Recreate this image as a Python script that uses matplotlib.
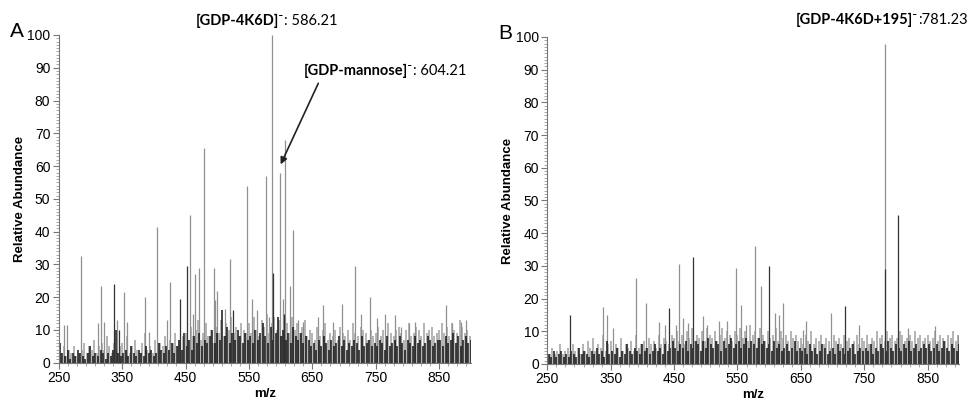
import numpy as np
import matplotlib
matplotlib.use('Agg')
import matplotlib.pyplot as plt
from matplotlib.ticker import MultipleLocator, AutoMinorLocator

plt.rcParams['font.family'] = ['Liberation Sans', 'DejaVu Sans']

# ---- panel A : tall peaks (m/z, relative abundance)
a_peak_mz = [258, 263, 285, 312, 317, 322, 342, 353.5, 358, 385.6, 393, 405, 421, 426,
             457, 462, 464.5, 471.8, 479, 494.5, 497, 500, 512, 520.7, 546.5, 555,
             563, 577, 581, 586.2, 598.5, 603, 607, 614.8, 619.5, 628, 635, 659,
             666.4, 682, 696, 717.8, 726, 740.5, 752, 765, 781, 790, 802, 812,
             860.5, 870, 884, 893]
a_peak_int = [11.5, 11.5, 32.5, 12, 23.5, 12.5, 13, 21.5, 12.5, 20, 9.5, 41.5, 13, 24.5,
              45, 15, 27, 29, 65.5, 29, 19, 22, 16.5, 31.5, 54, 19.5,
              16, 57, 14, 100, 58, 19.5, 68, 23.5, 40.5, 13, 12.5, 14,
              17.5, 12.5, 18, 29.5, 15, 20, 13.5, 15, 14.5, 11, 12, 12.5,
              17.5, 12, 12.5, 13]
a_dark_mz = [337, 345, 442, 452, 525, 588, 606]
a_dark_int = [24, 10, 19.5, 29.5, 16, 27.5, 15]

# ---- panel A : baseline noise (gray every 4 from 250, black every 4 from 252)
a_noise_gray = [4, 3, 5, 2, 4, 3, 5, 2, 3, 4, 6, 3, 5, 4, 7, 3, 5, 6, 4, 8, 5, 3, 6, 4, 5,
                6, 4, 8, 3, 5, 7, 4, 3, 6, 9, 4, 5, 3, 7, 4, 6, 5, 8, 4, 7, 6, 9, 5, 7, 8,
                9, 7, 11, 8, 10, 13, 7, 9, 12, 8, 10, 6, 11, 9, 13, 8, 12, 10, 14, 9, 11, 8, 12, 10, 9,
                12, 9, 14, 10, 8, 13, 11, 15, 9, 12, 14, 10, 13, 8, 11, 12, 9, 14, 10, 12, 9, 11, 13, 8, 10,
                9, 7, 11, 8, 10, 12, 7, 9, 8, 10, 7, 11, 9, 8, 10, 7, 12, 9, 8, 11, 10, 9, 7, 10, 8,
                9, 11, 8, 10, 7, 12, 9, 8, 10, 11, 9, 7, 10, 12, 8, 9, 11, 10, 8, 12, 9, 10, 11, 8, 9,
                10, 12, 9, 11, 8, 12, 10, 9, 13, 11, 9, 10, 8]
a_noise_black = [6, 3, 2, 4, 1, 3, 2, 4, 3, 2, 1, 3, 5, 2, 3, 2, 4, 3, 1, 3, 2, 4, 10, 3, 2,
                 3, 4, 2, 5, 3, 2, 4, 3, 2, 5, 3, 4, 2, 3, 6, 4, 3, 5, 4, 6, 3, 5, 7, 4, 9,
                 5, 7, 4, 8, 6, 9, 5, 7, 6, 8, 10, 6, 9, 7, 16, 8, 11, 6, 9, 7, 10, 8, 6, 9, 7,
                 8, 6, 10, 7, 9, 12, 8, 6, 11, 7, 9, 14, 8, 10, 7, 9, 6, 11, 8, 7, 9, 6, 8, 7, 5,
                 6, 4, 7, 5, 8, 6, 4, 7, 5, 6, 8, 5, 7, 4, 6, 5, 7, 6, 4, 8, 5, 6, 7, 5, 6,
                 5, 7, 6, 4, 8, 5, 6, 7, 5, 8, 6, 4, 7, 6, 5, 8, 6, 7, 5, 6, 8, 7, 5, 6, 7,
                 7, 5, 8, 6, 7, 9, 6, 8, 5, 7, 8, 6, 7]

# ---- panel B : tall peaks
b_peak_mz = [337.4, 343.8, 353.7, 390, 405.3, 426.4, 435.3, 453.2, 457.5, 464.8, 472.2,
             494.8, 501.7, 521, 533.3, 546.9, 554.8, 563.3, 576.9, 587, 608.5, 615.4,
             621.1, 653.3, 657.5, 696.9, 741.7, 782, 819, 861, 898]
b_peak_int = [17.3, 15, 11, 26.2, 18.7, 12.7, 12, 11.8, 30.5, 14, 12.5,
              14.7, 12, 13, 13.2, 29.5, 18, 12, 36, 24, 15.5, 15,
              18.7, 10.5, 13, 15.7, 12, 98, 11, 11.5, 9]
b_dark_mz = [285.8, 442.7, 479.6, 599, 719, 782.5, 803.8]
b_dark_int = [15, 17, 32.7, 30, 17.6, 29, 45.5]

b_noise_gray = [4, 3, 5, 3, 4, 6, 3, 4, 5, 3, 6, 4, 5, 3, 6, 4, 7, 5, 8, 4, 6, 5, 9, 4, 6,
                7, 4, 6, 5, 8, 4, 6, 5, 7, 4, 9, 5, 6, 7, 5, 8, 6, 7, 5, 9, 6, 8, 7, 6, 9,
                8, 10, 7, 9, 6, 10, 8, 11, 7, 9, 8, 10, 7, 11, 9, 8, 10, 7, 9, 11, 8, 10, 9, 7, 10,
                9, 11, 8, 10, 7, 12, 9, 10, 8, 11, 9, 7, 10, 8, 9, 11, 7, 10, 8, 9, 7, 10, 8, 9, 7,
                8, 6, 9, 7, 10, 6, 8, 7, 9, 6, 8, 7, 5, 9, 7, 8, 6, 9, 7, 8, 6, 7, 9, 6, 8,
                7, 9, 6, 8, 7, 10, 8, 9, 7, 10, 8, 9, 7, 8, 10, 9, 7, 8, 9, 7, 10, 8, 9, 7, 8,
                9, 7, 8, 10, 7, 9, 8, 7, 9, 8, 10, 7, 9]
b_noise_black = [3, 2, 4, 2, 3, 4, 2, 3, 2, 4, 3, 2, 5, 3, 4, 3, 2, 4, 3, 5, 3, 4, 2, 7, 3,
                 4, 3, 5, 2, 4, 3, 6, 4, 3, 5, 4, 3, 6, 4, 5, 3, 4, 6, 4, 5, 3, 6, 4, 5, 7,
                 5, 4, 6, 5, 7, 4, 6, 5, 7, 6, 4, 7, 5, 8, 6, 5, 7, 6, 4, 7, 5, 6, 8, 5, 6,
                 7, 5, 6, 8, 5, 7, 6, 5, 8, 6, 7, 5, 6, 4, 7, 5, 6, 4, 5, 6, 4, 5, 7, 4, 5,
                 4, 5, 3, 6, 4, 5, 3, 4, 6, 5, 3, 4, 5, 3, 6, 4, 5, 3, 4, 5, 6, 3, 4, 5, 4,
                 5, 4, 6, 3, 5, 4, 6, 5, 4, 7, 5, 4, 6, 5, 4, 6, 5, 7, 4, 5, 6, 4, 5, 6, 5,
                 6, 4, 5, 6, 4, 5, 7, 5, 4, 6, 5, 4, 6]

noise_mz_gray = np.arange(250, 900, 4)
noise_mz_black = np.arange(252, 902, 4)

fig = plt.figure(figsize=(9.73, 4.01), dpi=100)
axA = fig.add_axes([0.0603, 0.0955, 0.4237, 0.8173])
axB = fig.add_axes([0.5625, 0.0923, 0.4235, 0.8155])


def draw_spectrum(ax, ngray, nblack, pmz, pint, dmz, dint, letter):
    ax.vlines(noise_mz_gray, 0, ngray, colors='#a0a0a0', linewidth=1.1)
    ax.vlines(pmz, 0, pint, colors='#909090', linewidth=0.9)
    ax.vlines(noise_mz_black, 0, nblack, colors='#141414', linewidth=1.1)
    ax.vlines(dmz, 0, dint, colors='#333333', linewidth=0.9)
    ax.set_xlim(250, 900)
    ax.set_ylim(0, 100)
    for s in ['top', 'right']:
        ax.spines[s].set_visible(False)
    ax.spines['left'].set_color('#777777')
    ax.spines['bottom'].set_color('#777777')
    ax.set_xticks([250, 350, 450, 550, 650, 750, 850])
    ax.set_yticks(range(0, 101, 10))
    ax.yaxis.set_minor_locator(MultipleLocator(1))
    ax.xaxis.set_minor_locator(AutoMinorLocator(7))
    ax.tick_params(axis='both', which='major', labelsize=10, length=4,
                   color='#777777', pad=2)
    ax.tick_params(axis='both', which='minor', length=2, color='#999999')
    ax.set_xlabel('m/z', fontsize=9.5, fontweight='bold', labelpad=2)
    ax.set_ylabel('Relative Abundance', fontsize=9.5, fontweight='bold', labelpad=1)
    ax.text(-0.118, 1.01, letter, transform=ax.transAxes, fontsize=15,
            ha='left', va='center')


draw_spectrum(axA, a_noise_gray, a_noise_black, a_peak_mz, a_peak_int,
              a_dark_mz, a_dark_int, 'A')
draw_spectrum(axB, b_noise_gray, b_noise_black, b_peak_mz, b_peak_int,
              b_dark_mz, b_dark_int, 'B')

lab = ['Lato', 'DejaVu Sans']
# annotations panel A
fig.text(284 / 973, 1 - 21 / 401, '[GDP-4K6D]\u207b', family=lab, fontweight='bold',
         fontsize=10.5, ha='right', va='center')
fig.text(284 / 973, 1 - 21 / 401, ': 586.21', family=lab, fontsize=10.5,
         ha='left', va='center')
fig.text(413 / 973, 1 - 70.7 / 401, '[GDP-mannose]\u207b', family=lab, fontweight='bold',
         fontsize=10.5, ha='right', va='center')
fig.text(413 / 973, 1 - 70.7 / 401, ': 604.21', family=lab, fontsize=10.5,
         ha='left', va='center')
axA.annotate('', xy=(600, 60.5), xytext=(318.3 / 973, 1 - 83.3 / 401),
             textcoords='figure fraction',
             arrowprops=dict(arrowstyle='-|>', color='#222222', lw=1.2,
                             mutation_scale=10, shrinkA=0, shrinkB=0))
# annotation panel B
fig.text(918 / 973, 1 - 20 / 401, '[GDP-4K6D+195]\u207b', family=lab, fontweight='bold',
         fontsize=10.5, ha='right', va='center')
fig.text(918 / 973, 1 - 20 / 401, ':781.23', family=lab, fontsize=10.5,
         ha='left', va='center')

fig.savefig('out.png', dpi=100)
